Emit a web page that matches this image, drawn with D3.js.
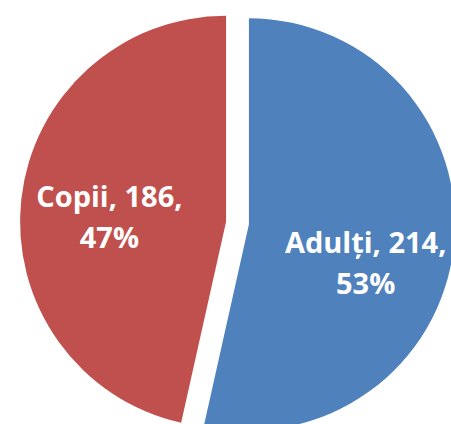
<!DOCTYPE html>
<html>
<head>
<meta charset="utf-8">
<script src="https://cdn.jsdelivr.net/npm/d3@7"></script>
<style>
  body { margin: 0; background: #fff; }
  svg { display: block; }
</style>
</head>
<body>
<div class="visContainer"></div>
<script>
// Chart data.
const categories = ['Adulți', 'Copii'];
const values = [214, 186];
const percentLabels = ['53%', '47%'];
const colors = ['#4F81BD', '#C0504D'];

// SVG constants.
const width = 451;
const height = 424;
const radius = 206;
const explode = 11.5;
const cx = 237.5;
const cy = 223;

const rows = categories.map((c, i) => ({ name: c, value: values[i], pct: percentLabels[i] }));

const pie = d3.pie()
              .sort(null)
              .value((d) => d.value);

const arc = d3.arc()
              .innerRadius(0)
              .outerRadius(radius);

const labelArc = d3.arc()
                   .innerRadius(radius * 0.57)
                   .outerRadius(radius * 0.57);

const svg = d3.select('.visContainer')
              .append('svg')
              .attr('width', width)
              .attr('height', height);

const g = svg.append('g')
             .attr('transform', 'translate(' + cx + ',' + cy + ')');

const slices = g.selectAll('g.slice')
                .data(pie(rows))
                .enter()
                .append('g')
                .attr('class', 'slice')
                .attr('transform', (d) => {
                    const mid = (d.startAngle + d.endAngle) / 2;
                    return 'translate(' + (explode * Math.sin(mid)) + ',' + (-explode * Math.cos(mid)) + ')';
                });

slices.append('path')
      .attr('d', arc)
      .attr('fill', (d, i) => colors[i]);

// Data labels: name, value, percent.
const nudge = [16, -2];
const labels = slices.append('text')
      .attr('text-anchor', 'middle')
      .attr('font-family', '"Open Sans", sans-serif')
      .attr('font-weight', 'bold')
      .attr('font-size', '29px')
      .attr('fill', '#fff')
      .attr('transform', (d) => {
          const c = labelArc.centroid(d);
          return 'translate(' + c[0] + ',' + (c[1] + nudge[d.index]) + ')';
      });

labels.append('tspan')
      .attr('x', 0)
      .attr('y', 0)
      .text((d) => d.data.name + ', ' + d.data.value + ',');

labels.append('tspan')
      .attr('x', 0)
      .attr('y', 41)
      .text((d) => d.data.pct);
</script>
</body>
</html>
